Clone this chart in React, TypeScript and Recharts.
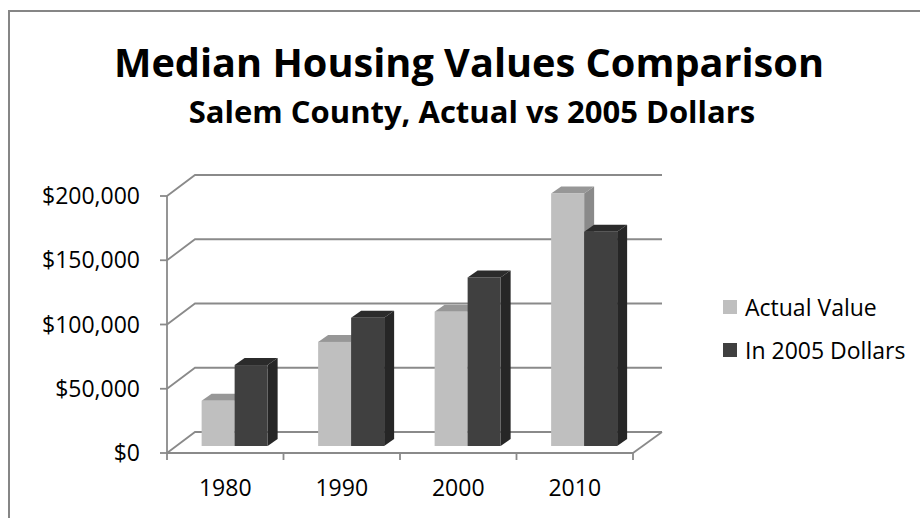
import React from 'react';
import { BarChart, Bar, XAxis, YAxis, CartesianGrid, Legend } from 'recharts';

const categories = ['1980', '1990', '2000', '2010'];
const actualValue = [35200, 81000, 104500, 196500];
const in2005Dollars = [63000, 99800, 131200, 166700];
const yTicks = [0, 50000, 100000, 150000, 200000];
const seriesNames = ['Actual Value', 'In 2005 Dollars'];

const data = categories.map((year, i) => ({
  year,
  actual: actualValue[i],
  adjusted: in2005Dollars[i],
}));

const FONT = '"Open Sans", "DejaVu Sans", sans-serif';
const LINE = '#8a8a8a';
// oblique depth of the floor / walls
const DX = 28;
const DY = -21;
// bar front plane offset (one third into the depth) and bar depth
const PX = 9;
const PY = -7;
const BX = 10;
const BY = -7;

const makeBar = (front: string, top: string, side: string) => (props: any) => {
  const { x, y, width, height } = props;
  if (x == null || y == null || !width) return <g />;
  const fx = x + PX;
  const fy = y + PY;
  const h = Math.max(0, height);
  return (
    <g>
      <polygon
        points={`${fx},${fy} ${fx + width},${fy} ${fx + width + BX},${fy + BY} ${fx + BX},${fy + BY}`}
        fill={top}
      />
      <polygon
        points={`${fx + width},${fy} ${fx + width + BX},${fy + BY} ${fx + width + BX},${fy + h + BY} ${fx + width},${fy + h}`}
        fill={side}
      />
      <rect x={fx} y={fy} width={width} height={h} fill={front} />
    </g>
  );
};

const gridLine = (props: any) => {
  const { x1, y1, x2, index } = props;
  const floorY = props.y != null && props.height != null ? props.y + props.height : null;
  const isFloor = floorY != null ? Math.abs(y1 - floorY) < 1 : index === 0;
  const n = categories.length;
  const step = (x2 - x1) / n;
  return (
    <g key={`g-${index}`}>
      <polyline
        points={`${x1},${y1} ${x1 + DX},${y1 + DY} ${x2 + DX + 1},${y1 + DY}`}
        fill="none"
        stroke={LINE}
        strokeWidth={1.8}
      />
      {isFloor && (
        <g>
          <line x1={x2} y1={y1} x2={x2 + DX + 1} y2={y1 + DY} stroke={LINE} strokeWidth={1.8} />
          {Array.from({ length: n + 1 }).map((_, k) => (
            <line
              key={k}
              x1={x1 + k * step}
              y1={y1}
              x2={x1 + k * step}
              y2={y1 + 7}
              stroke={LINE}
              strokeWidth={1.8}
            />
          ))}
        </g>
      )}
    </g>
  );
};

const renderLegend = (props: any) => {
  const { payload } = props;
  return (
    <div>
      {(payload || []).map((p: any, i: number) => (
        <div key={i} style={{ display: 'flex', alignItems: 'center', height: 43 }}>
          <span style={{ display: 'inline-block', width: 14, height: 14, background: p.color, marginRight: 8 }} />
          <span style={{ fontFamily: FONT, fontSize: 23, color: '#000', whiteSpace: 'nowrap' }}>{p.value}</span>
        </div>
      ))}
    </div>
  );
};

const fmt = (v: number) => '$' + v.toLocaleString('en-US');

export default function App() {
  return (
    <div style={{ position: 'absolute', left: 0, top: 0, width: 920, height: 518, background: '#fff' }}>
      <BarChart
        width={920}
        height={518}
        data={data}
        margin={{ top: 196, right: 287, bottom: 0, left: 0 }}
        barCategoryGap="22%"
        barGap={0}
      >
        <CartesianGrid vertical={false} horizontal={gridLine} stroke={LINE} />
        <XAxis
          dataKey="year"
          height={65}
          axisLine={{ stroke: LINE, strokeWidth: 1.8 }}
          tickLine={false}
          tickSize={0}
          tickMargin={27}
          tick={{ fill: '#000', fontFamily: FONT, fontSize: 23 }}
        />
        <YAxis
          width={167}
          domain={[0, 200000]}
          ticks={yTicks}
          interval={0}
          tickFormatter={fmt}
          tickSize={7}
          tickMargin={20}
          axisLine={{ stroke: LINE, strokeWidth: 1.8 }}
          tickLine={{ stroke: LINE, strokeWidth: 1.8 }}
          tick={{ fill: '#000', fontFamily: FONT, fontSize: 23 }}
        />
        <Legend
          layout="vertical"
          align="center"
          verticalAlign="middle"
          wrapperStyle={{ left: 723, top: 285, width: 200 }}
          content={renderLegend}
        />
        <Bar
          dataKey="actual"
          name={seriesNames[0]}
          fill="#bfbfbf"
          isAnimationActive={false}
          shape={makeBar('#bfbfbf', '#979797', '#8a8a8a')}
        />
        <Bar
          dataKey="adjusted"
          name={seriesNames[1]}
          fill="#404040"
          isAnimationActive={false}
          shape={makeBar('#404040', '#2b2b2b', '#262626')}
        />
      </BarChart>
      <svg
        width={920}
        height={518}
        style={{ position: 'absolute', left: 0, top: 0, pointerEvents: 'none' }}
      >
        <polyline points="9,518 9,11 920,11" fill="none" stroke="#868686" strokeWidth={2} />
        <text x={469} y={77} textAnchor="middle" fontFamily={FONT} fontWeight="bold" fontSize={39.7} fill="#000">
          Median Housing Values Comparison
        </text>
        <text x={472} y={123} textAnchor="middle" fontFamily={FONT} fontWeight="bold" fontSize={31} fill="#000">
          Salem County, Actual vs 2005 Dollars
        </text>
      </svg>
    </div>
  );
}
